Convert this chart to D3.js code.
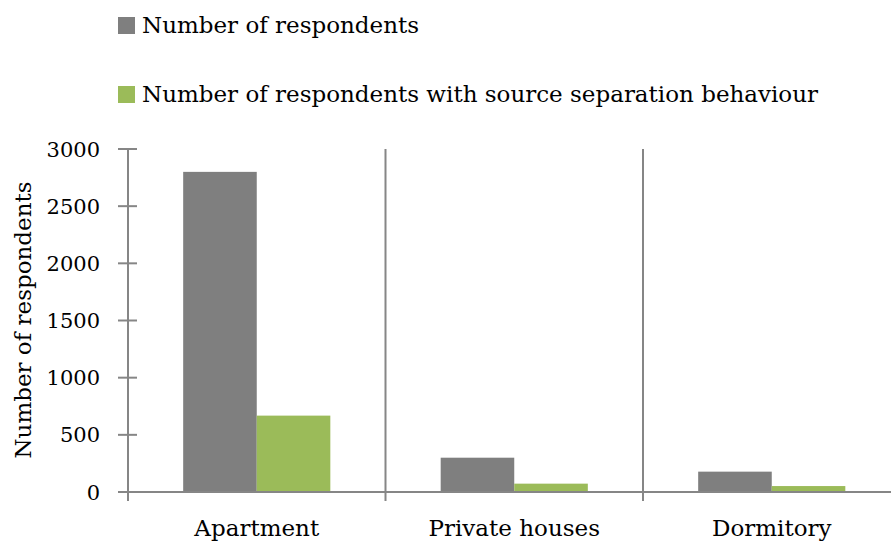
<!DOCTYPE html>
<html><head><meta charset="utf-8">
<script src="https://cdn.jsdelivr.net/npm/d3@7"></script>
<style>body{margin:0;background:#fff;overflow:hidden}svg{display:block}text{font-family:"DejaVu Serif",serif;fill:#000}</style>
</head><body><svg id="c" width="891" height="542"></svg>
<script>
const categories = ["Apartment", "Private houses", "Dormitory"];
const seriesNames = ["Number of respondents", "Number of respondents with source separation behaviour"];
const respondents = [2800, 300, 178];
const separating = [668, 73, 52];
const yTicks = [0, 500, 1000, 1500, 2000, 2500, 3000];
const colors = ["#7f7f7f", "#9bbb59"];

(function () {
const svg = d3.select("#c");
const pLeft = 128, pRight = 900.5, pTop = 149, pBottom = 492;
const fs = 23;

const x = d3.scaleBand().domain(categories).range([pLeft, pRight]).paddingInner(0).paddingOuter(0);
const inner = d3.scaleBand().domain([0, 1]).range([0, x.bandwidth()]).paddingInner(0).paddingOuter(0.75);
const y = d3.scaleLinear().domain([0, 3000]).range([pBottom, pTop]);
const axisColor = "#868686";

const seps = categories.slice(1).map(c => x(c));
svg.selectAll("line.sep").data(seps).enter().append("line")
  .attr("x1", d => d).attr("x2", d => d).attr("y1", pTop).attr("y2", pBottom + 9)
  .attr("stroke", axisColor).attr("stroke-width", 2);

const data = [respondents, separating];
categories.forEach((c, i) => {
  data.forEach((s, j) => {
    svg.append("rect")
      .attr("x", x(c) + inner(j))
      .attr("width", inner.bandwidth())
      .attr("y", y(s[i]))
      .attr("height", y(0) - y(s[i]))
      .attr("fill", colors[j]);
  });
});

const gy = svg.append("g").attr("transform", `translate(${pLeft},0)`);
gy.append("line").attr("x1", 0).attr("x2", 0).attr("y1", pTop).attr("y2", pBottom + 9).attr("stroke", axisColor).attr("stroke-width", 2);
gy.selectAll("line.t").data(yTicks).enter().append("line")
  .attr("x1", -10).attr("x2", 9).attr("y1", d => y(d)).attr("y2", d => y(d))
  .attr("stroke", axisColor).attr("stroke-width", 2);
gy.selectAll("text.t").data(yTicks).enter().append("text")
  .attr("x", -28).attr("y", d => y(d)).attr("dy", "0.36em").attr("text-anchor", "end")
  .attr("font-size", 21).text(d => d);

svg.append("line").attr("x1", pLeft).attr("x2", 891).attr("y1", pBottom).attr("y2", pBottom).attr("stroke", axisColor).attr("stroke-width", 2);
svg.selectAll("text.cat").data(categories).enter().append("text")
  .attr("x", d => x(d) + x.bandwidth() / 2).attr("y", 536).attr("text-anchor", "middle")
  .attr("font-size", fs).text(d => d);

svg.append("text").attr("transform", "translate(31,320) rotate(-90)").attr("text-anchor", "middle")
  .attr("font-size", fs).text("Number of respondents");

const legY = [17, 86];
seriesNames.forEach((n, j) => {
  svg.append("rect").attr("x", 118).attr("y", legY[j]).attr("width", 17).attr("height", 17).attr("fill", colors[j]);
  svg.append("text").attr("x", 142).attr("y", legY[j] + 16).attr("font-size", fs).text(n);
});
})();
</script></body></html>
